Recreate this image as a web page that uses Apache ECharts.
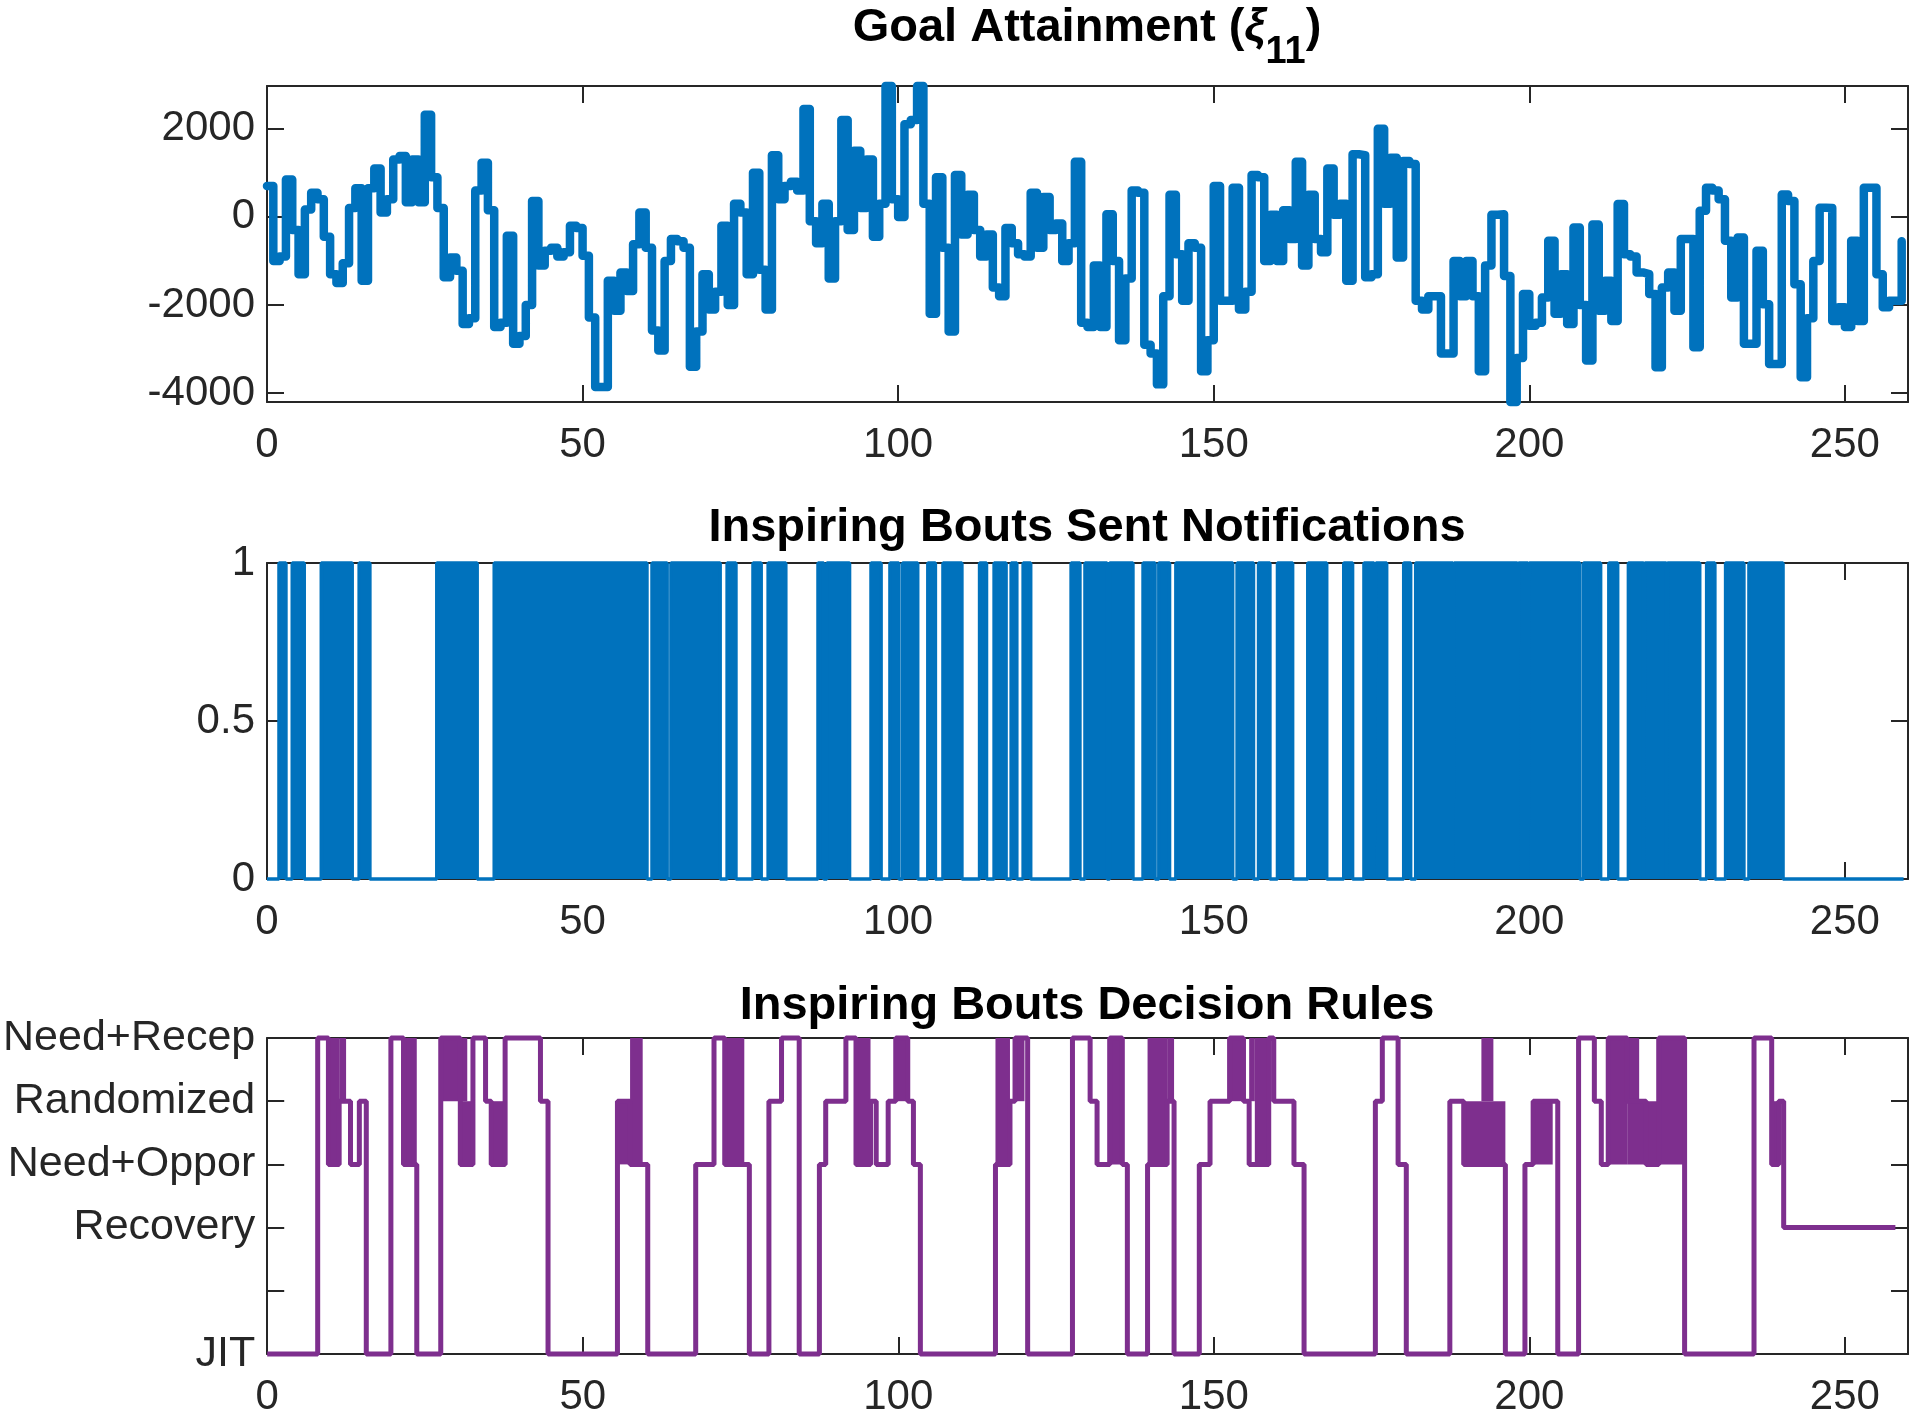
<!DOCTYPE html>
<html>
<head>
<meta charset="utf-8">
<title>Inspiring Bouts</title>
<script src="https://cdn.jsdelivr.net/npm/echarts@6/dist/echarts.min.js"></script>
<style>
  html, body { margin: 0; padding: 0; background: #fff; }
  #chart { width: 1920px; height: 1421px; }
</style>
</head>
<body>
<div id="chart"></div>
<script>
// goal attainment, one value per day (day = index)
const goalValues = [
  700, -1000, -900, 850, -300, -1300, 170, 550, 400, -450,
  -1300, -1500, -1050, 200, 650, -1450, 650, 1100, 100, 400,
  1300, 1380, 330, 1300, 330, 2320, 900, 200, -1370, -920,
  -1220, -2430, -2300, 600, 1230, 150, -2500, -2400, -430, -2880,
  -2700, -2000, 360, -1100, -770, -700, -900, -800, -200, -250,
  -880, -2280, -3860, -3860, -1450, -2130, -1260, -1680, -620, 100,
  -700, -2580, -3030, -1000, -500, -550, -700, -3400, -2600, -1300,
  -2100, -1700, -200, -2000, 300, 100, -1300, 1000, -1200, -2100,
  1400, 400, 700, 800, 600, 2450, -100, -600, 300, -1400,
  -100, 2200, -300, 1500, 200, 1300, -450, 300, 2970, 400,
  0, 2100, 2200, 2970, 300, -2200, 900, -700, -2600, 950,
  -400, 500, -300, -900, -400, -1600, -1800, -250, -600, -850,
  -900, 550, -700, 450, -300, -150, -1000, -600, 1250, -2400,
  -2500, -1100, -2500, 60, -1000, -2800, -1400, 600, 550, -2900,
  -3100, -3800, -1800, 500, -850, -1900, -600, -700, -3500, -2800,
  700, -1900, -1900, 660, -2100, -1700, 950, 900, -1000, 50,
  -1000, 150, -500, 1250, -1100, 500, -500, -800, 1100, 50,
  300, -1450, 1420, 1400, -1370, -1300, 2000, 300, 1340, -920,
  1270, 1200, -1900, -2100, -1800, -1800, -3100, -3100, -1000, -1800,
  -1000, -1800, -3500, -1100, 50, 60, -1340, -4200, -3200, -1750,
  -2470, -2400, -1830, -540, -2200, -1300, -2430, -240, -2000, -3260,
  -170, -2130, -1450, -2360, 290, -850, -900, -1260, -1300, -1750,
  -3410, -1600, -1260, -2130, -500, -500, -2960, 140, 660, 600,
  400, -540, -1830, -470, -2880, -2880, -770, -1980, -3340, -3340,
  510, 360, -1530, -3640, -2300, -1000, 210, 200, -2360, -2050,
  -2500, -540, -2360, 660, 660, -1300, -2050, -1900, -1900, -550
];

// notifications: sent (=1) between start and end, 0 otherwise
const notifyStart = [1.9, 4.0, 8.6, 14.6, 26.9, 36.0, 61.0, 64.0, 72.9, 77.0, 79.4, 87.3, 88.7, 95.7, 98.7, 100.7,
  104.7, 107.1, 112.9, 115.2, 117.9, 119.8, 127.4, 129.6, 133.5, 138.8, 141.3, 144.0, 153.7, 157.1, 160.1,
  164.9, 170.6, 173.8, 175.7, 180.1, 182.0, 188.1, 198.3, 200.0, 208.6, 212.6, 215.7, 218.3, 221.9, 228.1,
  231.1, 234.8];
const notifyEnd = [3.0, 5.9, 13.5, 16.3, 33.3, 60.2, 63.4, 71.8, 74.3, 78.3, 82.2, 88.2, 92.3, 97.3, 100.1, 103.1,
  105.9, 110.1, 114.0, 117.1, 118.8, 121.0, 128.8, 133.1, 137.2, 140.7, 143.0, 153.0, 156.3, 158.9, 162.5,
  167.9, 172.0, 175.4, 177.4, 181.2, 187.9, 198.1, 199.8, 208.0, 211.3, 214.0, 218.1, 221.7, 227.0, 229.4,
  234.0, 240.2];
const notifyLast = 259.3;

// decision rules: level holds from each time until the next one
const ruleLabels = ['JIT', '', 'Recovery', 'Need+Oppor', 'Randomized', 'Need+Recep'];
const ruleTimes = [0, 8, 9.7, 11.4, 12.5, 13.2, 14.6, 15.7,
  19.6, 21.6, 23.7,
  27.5, 30.6, 32.6, 34.6, 35.5, 37.7, 43.3, 44.5,
  55.5, 57.5, 60.3,
  67.9, 70.8, 72.5, 76.4,
  79.5, 81.5, 84.3,
  87.5, 88.5, 91.7, 93.3, 95.6, 96.5, 98.4, 99.6, 101.5, 102.4, 103.5,
  115.4, 117.7, 118.5, 120.5,
  127.6, 130.4, 131.5, 133.5, 135.5, 136.3,
  139.5, 142.6, 143.7,
  147.7, 149.4, 152.5, 154.7, 155.6, 158.7, 159.5, 162.7, 164.3,
  175.6, 176.7, 179.2, 180.5,
  187.4, 189.6, 196.2,
  199.3, 200.6, 204.5,
  207.8, 210.3, 211.4, 212.5, 215.5, 218.5, 220.5, 224.6,
  235.6, 238.4, 239.5, 240.3, 258];
const ruleLevels = [0, 5, 3, 4, 4, 3, 4, 0,
  5, 3, 0,
  5, 3, 5, 4, 3, 5, 4, 0,
  4, 3, 0,
  3, 5, 3, 0,
  4, 5, 0,
  3, 4, 5, 3, 4, 3, 4, 5, 4, 3, 0,
  3, 4, 5, 0,
  5, 4, 3, 5, 3, 0,
  3, 4, 0,
  3, 4, 5, 4, 3, 5, 4, 3, 0,
  4, 5, 3, 0,
  4, 3, 0,
  3, 4, 0,
  5, 4, 3, 5, 4, 3, 5, 0,
  5, 3, 4, 2, 2];

// stretches where the rule flips between two levels many times a day
const flipStart = [9.7, 11.4, 21.6, 27.5, 30.6, 35.4, 55.5, 57.5, 72.5, 93.3, 99.6, 115.4, 118.5, 133.5,
  139.5, 142.6, 152.5, 155.6, 156.5, 189.6, 192.4, 200.6, 212.5, 215.5, 215.5, 220.5, 238.4];
const flipEnd = [11.4, 12.5, 23.7, 31.7, 32.6, 37.7, 57.5, 59.5, 75.6, 95.6, 101.5, 117.7, 120.0, 135.5,
  142.6, 143.7, 154.7, 156.5, 158.7, 196.2, 194.3, 203.7, 215.5, 217.4, 220.5, 224.6, 239.5];
const flipLow = [3, 4, 3, 4, 3, 3, 3, 3, 3, 3, 4, 3, 4, 3, 3, 4, 4, 4, 3, 3, 4, 3, 3, 4, 3, 3, 3];
const flipHigh = [5, 5, 5, 5, 4, 4, 4, 5, 5, 5, 5, 5, 5, 5, 5, 5, 5, 5, 5, 4, 5, 4, 5, 5, 4, 5, 4];

const xTicks = [0, 50, 100, 150, 200, 250];
const goalTicks = [-4000, -2000, 0, 2000];

const blue = '#0072BD';
const purple = '#7E2F8E';
const axisColor = '#262626';
const font = '"Liberation Sans", Arial, Helvetica, sans-serif';

const goalData = goalValues.map((v, i) => [i, v]);

const notifyData = [[0, 0]];
notifyStart.forEach((s, i) => {
  notifyData.push([s, 1]);
  notifyData.push([notifyEnd[i], 0]);
});
notifyData.push([notifyLast, 0]);

const ruleData = ruleTimes.map((t, i) => [t, ruleLevels[i]]);
const flipData = flipStart.map((s, i) => [s, flipEnd[i], flipLow[i], flipHigh[i]]);

const grids = [
  { left: 267, width: 1641, top: 86, height: 316 },
  { left: 267, width: 1641, top: 563, height: 316 },
  { left: 267, width: 1641, top: 1038, height: 316 }
];

const lineStyle = { color: axisColor, width: 2 };

function xAxesFor(g) {
  const base = {
    gridIndex: g, type: 'value', min: 0, max: 260,
    axisLine: { show: true, onZero: false, lineStyle: lineStyle },
    axisTick: { show: true, inside: true, length: 17, customValues: xTicks, lineStyle: lineStyle },
    splitLine: { show: false }
  };
  return [
    Object.assign({}, base, {
      position: 'bottom',
      axisLabel: { customValues: xTicks, fontSize: 42, fontFamily: font, color: axisColor, margin: 22,
        formatter: v => String(v) }
    }),
    Object.assign({}, base, { position: 'top', axisLabel: { show: false } })
  ];
}

function yAxesFor(g, opts, labelOpts) {
  const base = Object.assign({
    gridIndex: g, type: 'value',
    axisLine: { show: true, onZero: false, lineStyle: lineStyle },
    splitLine: { show: false }
  }, opts);
  const tick = Object.assign({ show: true, inside: true, length: 17, lineStyle: lineStyle }, opts.tickExtra || {});
  return [
    Object.assign({}, base, {
      position: 'left', axisTick: tick,
      axisLabel: Object.assign({ fontSize: 42, fontFamily: font, color: axisColor, margin: 12 }, labelOpts)
    }),
    Object.assign({}, base, { position: 'right', axisTick: tick, axisLabel: { show: false } })
  ];
}

const xAxis = [].concat(xAxesFor(0), xAxesFor(1), xAxesFor(2));
const yAxis = [].concat(
  yAxesFor(0, { min: -4200, max: 2970, tickExtra: { customValues: goalTicks } },
    { customValues: goalTicks, formatter: v => String(v) }),
  yAxesFor(1, { min: 0, max: 1, interval: 0.5 }, { formatter: v => String(v) }),
  yAxesFor(2, { min: 0, max: 5, interval: 1 }, { fontSize: 43, formatter: v => ruleLabels[Math.round(v)] })
);

const titleStyle = { fontSize: 47, fontWeight: 'bold', fontFamily: font, color: '#000', lineHeight: 52 };

const chart = echarts.init(document.getElementById('chart'), null, { renderer: 'canvas' });
chart.setOption({
  animation: false,
  backgroundColor: '#fff',
  title: [
    {
      text: 'Goal Attainment ({xi|ξ}{sub|11})',
      left: 1087, textAlign: 'center', top: 2, padding: 0,
      textStyle: Object.assign({}, titleStyle, {
        rich: {
          xi: { fontSize: 47, fontWeight: 'bold', fontStyle: 'italic', fontFamily: font, color: '#000' },
          sub: { fontSize: 38, fontWeight: 'bold', fontFamily: font, color: '#000', padding: [50, 0, 0, 0] }
        }
      })
    },
    { text: 'Inspiring Bouts Sent Notifications', left: 1087, textAlign: 'center', top: 502, padding: 0, textStyle: titleStyle },
    { text: 'Inspiring Bouts Decision Rules', left: 1087, textAlign: 'center', top: 980, padding: 0, textStyle: titleStyle }
  ],
  grid: grids,
  xAxis: xAxis,
  yAxis: yAxis,
  series: [
    {
      type: 'line', xAxisIndex: 0, yAxisIndex: 0, data: goalData, step: 'end',
      showSymbol: false, clip: false,
      lineStyle: { color: blue, width: 8.5, join: 'round', cap: 'round' }
    },
    {
      type: 'line', xAxisIndex: 2, yAxisIndex: 2, data: notifyData, step: 'end',
      showSymbol: false, clip: false,
      lineStyle: { color: blue, width: 3.5 },
      areaStyle: { color: blue, opacity: 1 }
    },
    {
      type: 'custom', xAxisIndex: 4, yAxisIndex: 4, data: flipData,
      encode: { x: [0, 1], y: [2, 3] }, clip: false,
      renderItem: function (params, api) {
        const a = api.coord([api.value(0), api.value(3)]);
        const b = api.coord([api.value(1), api.value(2)]);
        return {
          type: 'rect',
          shape: { x: a[0], y: a[1], width: b[0] - a[0], height: b[1] - a[1] },
          style: { fill: purple }
        };
      }
    },
    {
      type: 'line', xAxisIndex: 4, yAxisIndex: 4, data: ruleData, step: 'end',
      showSymbol: false, clip: false,
      lineStyle: { color: purple, width: 5 }
    }
  ]
});
</script>
</body>
</html>
